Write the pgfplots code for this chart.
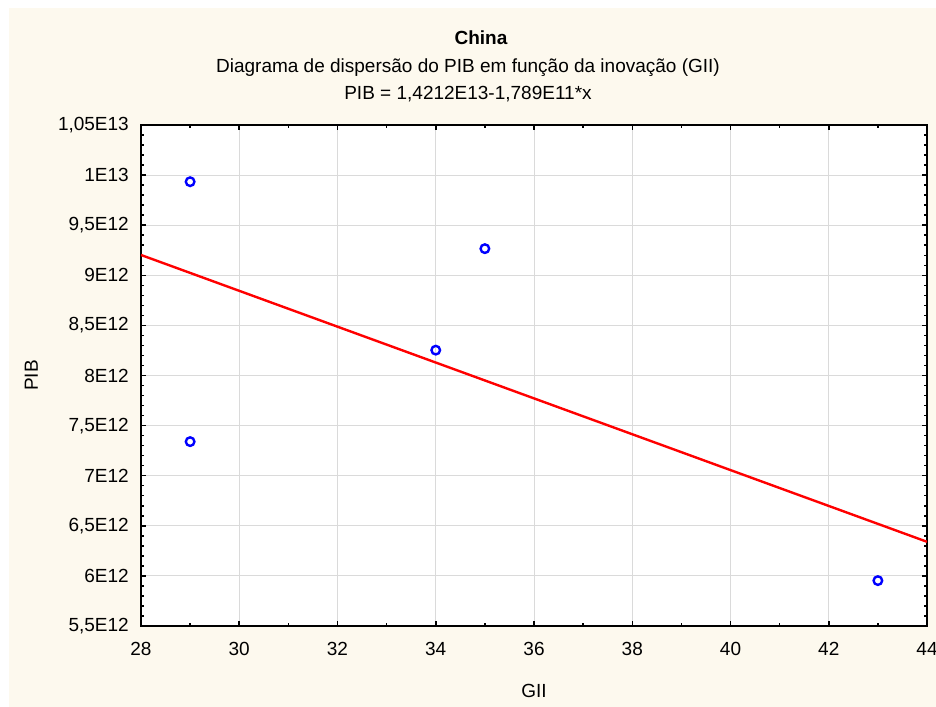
\documentclass[border=0pt]{standalone}
\usepackage{fontspec}
\setmainfont{Liberation Sans}
\usepackage{pgfplots}
\pgfplotsset{compat=1.18}
\definecolor{bgc}{RGB}{253,249,238}
\definecolor{gridc}{RGB}{218,218,218}
\begin{document}
\fontsize{19bp}{22bp}\selectfont
\begin{tikzpicture}
\fill[white, use as bounding box] (-141bp,-81bp) rectangle (795bp,626bp);
\fill[bgc] (-132bp,-81bp) rectangle (795bp,618bp);
\begin{axis}[at={(0,0)}, anchor=south west, scale only axis,
  width=786bp, height=501bp,
  xmin=28, xmax=44, ymin=5.5, ymax=10.5,
  xtick={28,30,32,34,36,38,40,42,44},
  ytick={5.5,6,6.5,7,7.5,8,8.5,9,9.5,10,10.5},
  yticklabels={{5,5E12},{6E12},{6,5E12},{7E12},{7,5E12},{8E12},{8,5E12},{9E12},{9,5E12},{1E13},{1,05E13}},
  /pgf/number format/assume math mode=true,
  minor x tick num=1, minor y tick num=4,
  tick align=inside,
  major tick length=5bp, minor tick length=3bp,
  every tick/.style={black, line width=1.5bp},
  grid=major, major grid style={gridc, line width=1bp},
  axis line style={line width=2.2bp},
  axis background/.style={fill=white},
  xticklabel style={anchor=base, yshift=-29bp, inner sep=0pt},
  yticklabel style={anchor=east, xshift=-12bp, inner sep=0pt},
  xlabel={GII},
  xlabel style={at={(axis description cs:0.5,0)}, anchor=base, yshift=-71bp, inner sep=0pt},
  ylabel={PIB},
  ylabel style={at={([xshift=-103bp]axis description cs:0,0.5)}, anchor=base, inner sep=0pt},
]
\addplot[red, line width=2.4bp] coordinates {(28,9.2028) (44,6.3404)};
\addplot[only marks, mark=o, mark size=4.3bp, mark options={blue, line width=2.4bp}]
  coordinates {(29,9.934) (29,7.34) (34,8.253) (35,9.266) (43,5.953)};
\end{axis}
\node[anchor=base, font=\bfseries] at (340bp,581bp) {China};
\node[anchor=base] at (327bp,553bp) {Diagrama de dispersão do PIB em função da inovação (GII)};
\node[anchor=base] at (327bp,526bp) {PIB = 1,4212E13-1,789E11*x};
\end{tikzpicture}
\end{document}
